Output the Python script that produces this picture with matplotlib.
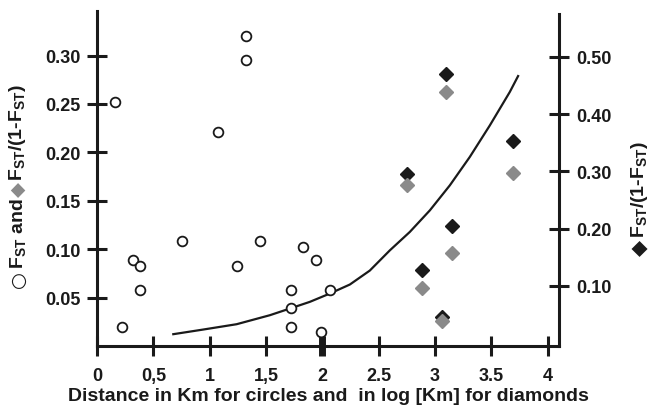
import matplotlib
matplotlib.use('Agg')
import matplotlib.pyplot as plt

plt.rcParams['font.family'] = 'Liberation Sans'
plt.rcParams['font.weight'] = 'bold'
plt.rcParams['axes.labelweight'] = 'bold'
plt.rcParams['mathtext.fontset'] = 'custom'
plt.rcParams['mathtext.rm'] = 'Liberation Sans:bold'
plt.rcParams['mathtext.bf'] = 'Liberation Sans:bold'
plt.rcParams['mathtext.default'] = 'rm'

# circles: distance in Km, F_ST (left axis)
circ_x = [0.16, 0.22, 0.32, 0.38, 0.38, 0.75, 1.07, 1.24, 1.32, 1.32, 1.45,
          1.72, 1.72, 1.72, 1.83, 1.94, 1.99, 2.07]
circ_y = [0.252, 0.020, 0.089, 0.083, 0.058, 0.108, 0.221, 0.083, 0.320, 0.295,
          0.108, 0.058, 0.039, 0.020, 0.102, 0.089, 0.014, 0.058]

# diamonds: log distance
diam_x = [2.75, 2.885, 3.066, 3.10, 3.15, 3.69]
diam_gray = [0.166, 0.060, 0.026, 0.262, 0.096, 0.179]    # left axis
diam_black = [0.295, 0.128, 0.045, 0.470, 0.205, 0.353]   # right axis

# trend line (left axis units)
curve_x = [0.677, 0.943, 1.239, 1.534, 1.712, 1.889, 2.067, 2.244, 2.421,
           2.599, 2.776, 2.954, 3.131, 3.308, 3.486, 3.663, 3.737]
curve_y = [0.0122, 0.0170, 0.0225, 0.0318, 0.0387, 0.0456, 0.0542, 0.0635,
           0.0779, 0.0988, 0.1178, 0.1401, 0.1659, 0.1952, 0.2278, 0.2623,
           0.2788]

xticks = [0, 0.5, 1, 1.5, 2, 2.5, 3, 3.5, 4]
xtick_labels = ['0', '0,5', '1', '1,5', '2', '2.5', '3', '3.5', '4']
yticks_left = [0.05, 0.10, 0.15, 0.20, 0.25, 0.30]
yticks_right = [0.10, 0.20, 0.30, 0.40, 0.50]

ink = '#1a1a1a'
gray = '#8a8a8a'

fig = plt.figure(figsize=(6.49, 4.06), dpi=100)
ax = fig.add_axes([97/649, 1-347/406, (559-97)/649, (347-12)/406])
ax2 = ax.twinx()
ax.set_zorder(ax2.get_zorder() + 1)
ax.patch.set_visible(False)

ax2.plot(diam_x, diam_black, 'D', ms=7, color=ink, mec=ink, clip_on=False)
ax.plot(curve_x, curve_y, '-', color=ink, lw=1.6)
ax.plot(circ_x, circ_y, 'o', ms=7, mfc='white', mec=ink, mew=1.3, clip_on=False)
ax.plot(diam_x, diam_gray, 'D', ms=7, color=gray, mec=gray, clip_on=False)

ax.set_xlim(0, 4.1)
ax.set_ylim(0, 0.346)
ax2.set_ylim(-0.005, 0.58)

for a in (ax, ax2):
    a.spines['top'].set_visible(False)
    for s in ('left', 'right', 'bottom'):
        a.spines[s].set_linewidth(2.2)
        a.spines[s].set_color(ink)
ax.spines['right'].set_visible(False)
ax2.spines['left'].set_visible(False)
ax2.spines['bottom'].set_visible(False)
ax2.spines['right'].set_bounds(-0.005, 0.574)

ax.set_xticks(xticks)
ax.set_xticklabels(xtick_labels)
ax.set_yticks(yticks_left)
ax.set_yticklabels(['%.2f' % v for v in yticks_left])
ax2.set_yticks(yticks_right)
ax2.set_yticklabels(['%.2f' % v for v in yticks_right])

ax.tick_params(axis='x', direction='inout', length=14, width=2.2, pad=8,
               labelsize=13, colors=ink)
ax.tick_params(axis='y', direction='inout', length=14, width=2.2, pad=5,
               labelsize=13, colors=ink)
ax2.tick_params(axis='y', direction='inout', length=14, width=2.2, pad=5.5,
                labelsize=13, colors=ink)
ax.xaxis.get_major_ticks()[4].tick1line.set_markeredgewidth(5)

ax.set_xlabel('Distance in Km for circles and  in log [Km] for diamonds',
              fontsize=14, fontweight='bold', color=ink, labelpad=2)

# left axis label, built from pieces
lx = 18 / 649
fig.text(lx, 1 - 280/406, '\u25cb', rotation=90, ha='center', va='center',
         fontsize=14, color=ink, family='DejaVu Sans', fontweight='normal')
fig.text(lx, 1 - 234/406, 'F$_{ST}$ and', rotation=90, ha='center', va='center',
         fontsize=14, color=ink)
fig.text(lx, 1 - 190/406, '\u25c6', rotation=90, ha='center', va='center',
         fontsize=14, color=gray, family='DejaVu Sans')
fig.text(lx, 1 - 133/406, 'F$_{ST}$/(1-F$_{ST}$)', rotation=90, ha='center',
         va='center', fontsize=14, color=ink)

# right axis label
rx = 640 / 649
fig.text(rx, 1 - 248/406, '\u25c6', rotation=90, ha='center', va='center',
         fontsize=15, color=ink, family='DejaVu Sans')
fig.text(rx, 1 - 190/406, 'F$_{ST}$/(1-F$_{ST}$)', rotation=90, ha='center',
         va='center', fontsize=14, color=ink)

plt.savefig('out.png', dpi=100)
